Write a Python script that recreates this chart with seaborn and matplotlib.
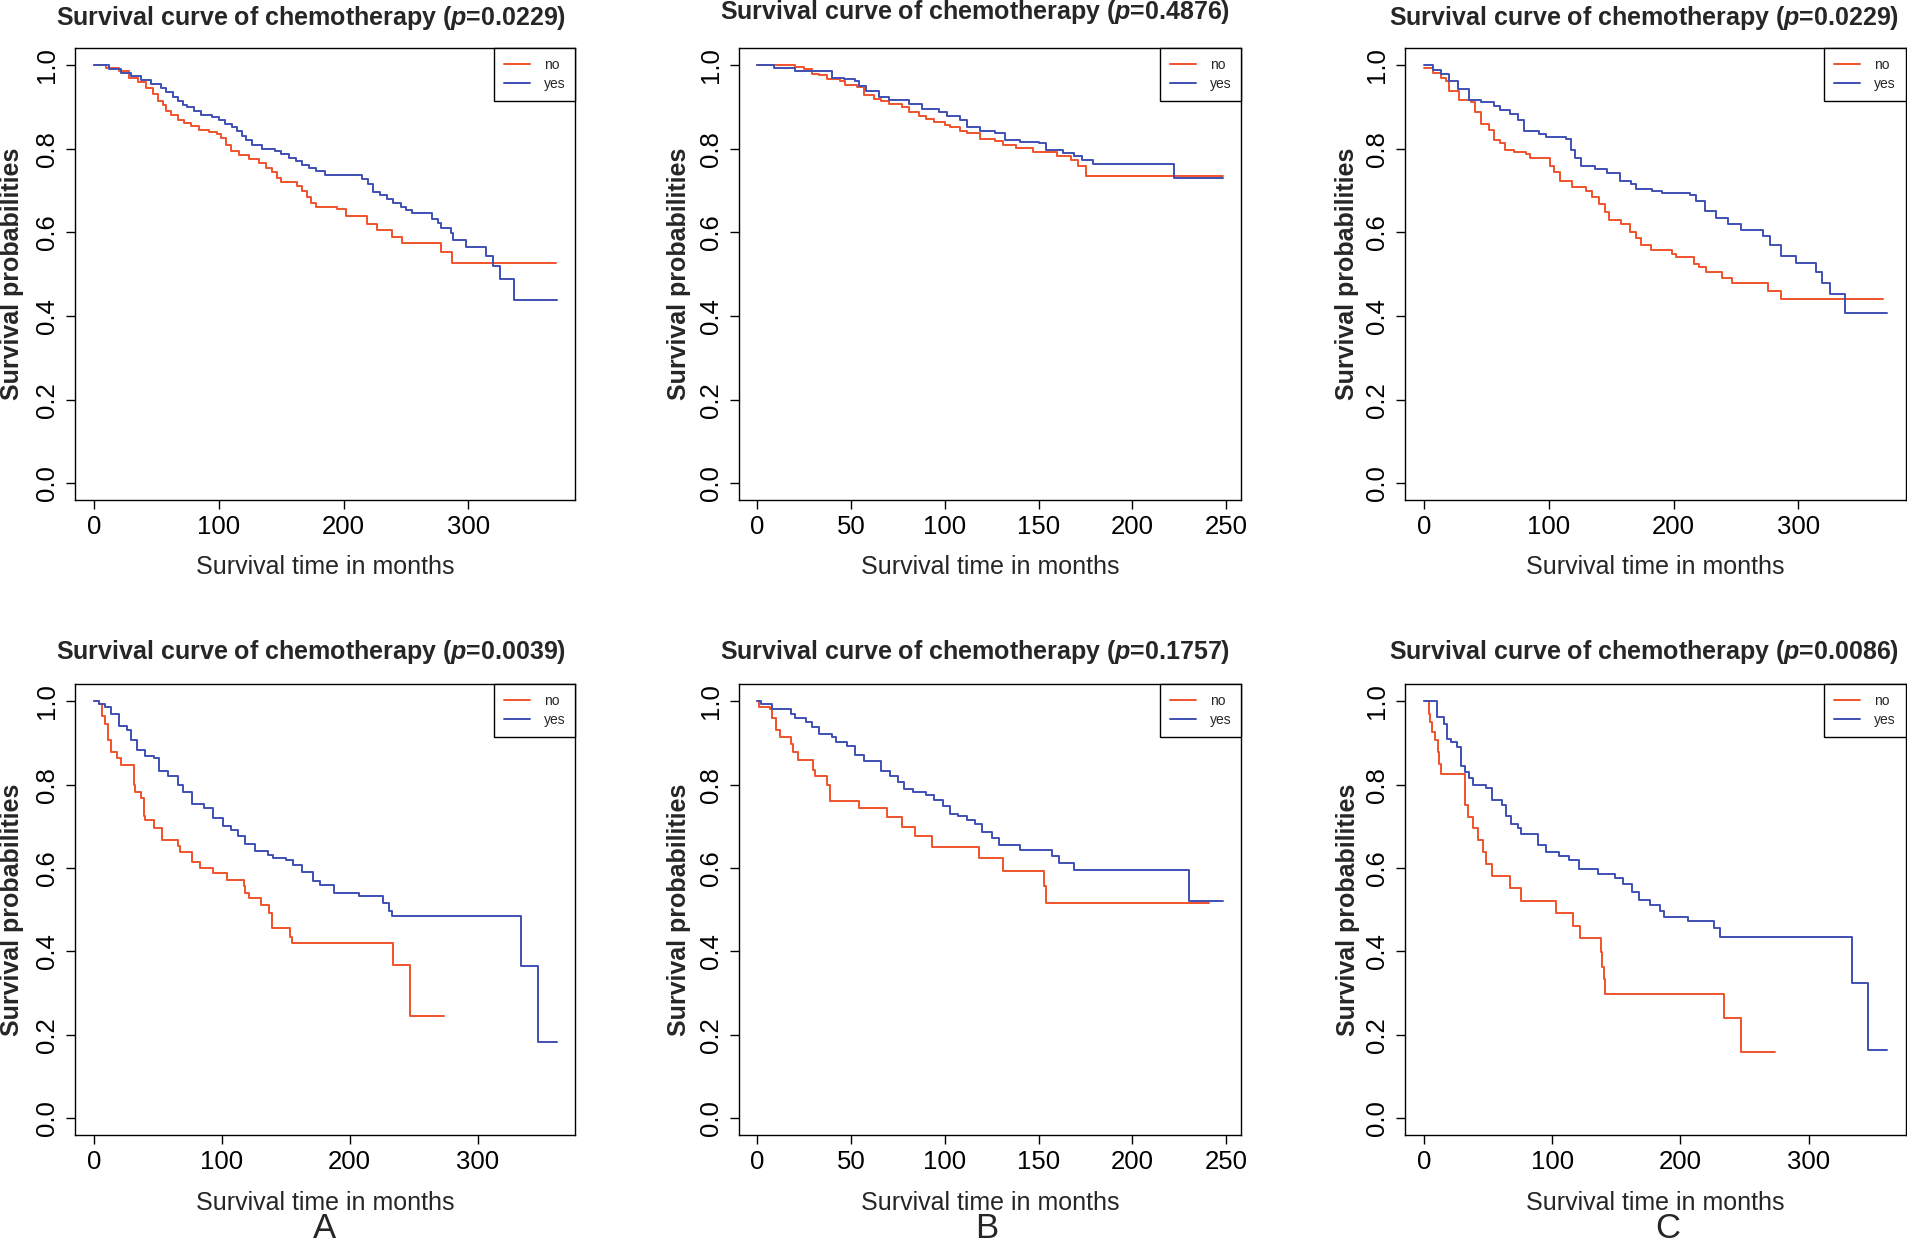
import pandas as pd
import matplotlib
matplotlib.use("Agg")
import matplotlib.pyplot as plt
import seaborn as sns

# Kaplan-Meier steps: event times (months) and survival after each step
# top row, panel A
topA_no_t = [0, 10, 20, 28, 35, 42, 47, 51, 55, 58, 62, 67, 72, 78, 84, 92, 99, 102, 106, 110,
             116, 124, 132, 138, 143, 147, 150, 163, 167, 171, 174, 178, 195, 202, 219, 227, 239,
             247, 278, 287, 370]
topA_no_s = [1.0, 0.993, 0.985, 0.97, 0.96, 0.945, 0.93, 0.915, 0.905, 0.89, 0.88, 0.87, 0.862,
             0.855, 0.845, 0.84, 0.835, 0.825, 0.81, 0.795, 0.785, 0.775, 0.765, 0.755, 0.745,
             0.73, 0.72, 0.71, 0.70, 0.685, 0.67, 0.66, 0.655, 0.64, 0.62, 0.605, 0.59, 0.575,
             0.553, 0.527, 0.527]
topA_yes_t = [0, 12, 22, 30, 38, 46, 54, 58, 63, 67, 71, 75, 80, 86, 95, 100, 105, 111, 115, 119,
              122, 127, 135, 145, 150, 156, 162, 167, 172, 178, 185, 215, 220, 224, 229, 235, 240,
              246, 250, 255, 271, 276, 278, 286, 288, 298, 314, 320, 325, 337, 371]
topA_yes_s = [1.0, 0.99, 0.982, 0.975, 0.965, 0.955, 0.945, 0.935, 0.925, 0.915, 0.905, 0.9, 0.89,
              0.88, 0.875, 0.868, 0.86, 0.852, 0.843, 0.83, 0.82, 0.81, 0.80, 0.795, 0.787, 0.778,
              0.77, 0.762, 0.755, 0.747, 0.738, 0.727, 0.715, 0.697, 0.69, 0.68, 0.67, 0.66,
              0.653, 0.646, 0.632, 0.622, 0.61, 0.598, 0.583, 0.566, 0.543, 0.52, 0.488, 0.439,
              0.439]

# top row, panel B
topB_no_t = [0, 20, 25, 29, 33, 37, 44, 47, 53, 57, 62, 66, 70, 77, 81, 86, 90, 94, 100, 103,
             108, 112, 119, 127, 131, 138, 147, 160, 167, 171, 175, 248]
topB_no_s = [1.0, 0.996, 0.99, 0.98, 0.976, 0.966, 0.961, 0.952, 0.948, 0.929, 0.92, 0.914, 0.906,
             0.90, 0.888, 0.879, 0.871, 0.865, 0.858, 0.851, 0.842, 0.837, 0.824, 0.819, 0.81,
             0.803, 0.793, 0.782, 0.773, 0.759, 0.734, 0.734]
topB_yes_t = [0, 9, 20, 40, 46, 52, 54, 58, 65, 70, 81, 88, 97, 101, 108, 112, 119, 127, 132, 140,
              150, 154, 163, 169, 173, 179, 222, 248]
topB_yes_s = [1.0, 0.994, 0.985, 0.97, 0.966, 0.961, 0.95, 0.938, 0.925, 0.917, 0.906, 0.895,
              0.888, 0.879, 0.87, 0.851, 0.842, 0.837, 0.822, 0.816, 0.814, 0.798, 0.791, 0.782,
              0.773, 0.764, 0.73, 0.73]

# top row, panel C
topC_no_t = [0, 7, 14, 18, 20, 28, 38, 41, 46, 52, 56, 61, 65, 72, 82, 85, 101, 104, 109, 119,
             130, 135, 140, 145, 148, 158, 165, 170, 174, 182, 199, 202, 216, 220, 226, 239, 247,
             276, 286, 368]
topC_no_s = [0.994, 0.982, 0.97, 0.961, 0.938, 0.917, 0.911, 0.888, 0.86, 0.846, 0.822, 0.814,
             0.798, 0.793, 0.787, 0.779, 0.759, 0.745, 0.722, 0.709, 0.70, 0.684, 0.667, 0.649,
             0.629, 0.621, 0.601, 0.586, 0.571, 0.559, 0.548, 0.54, 0.525, 0.518, 0.505, 0.491,
             0.479, 0.46, 0.44, 0.44]
topC_yes_t = [0, 7, 14, 20, 27, 36, 46, 56, 61, 69, 75, 80, 92, 98, 114, 118, 121, 126, 137, 147,
              157, 166, 170, 183, 191, 213, 218, 225, 234, 244, 254, 272, 277, 286, 298, 314, 319,
              325, 337, 371]
topC_yes_s = [1.0, 0.989, 0.98, 0.961, 0.943, 0.917, 0.911, 0.902, 0.892, 0.883, 0.87, 0.842,
              0.835, 0.828, 0.824, 0.796, 0.778, 0.759, 0.752, 0.741, 0.724, 0.715, 0.704, 0.70,
              0.695, 0.69, 0.676, 0.651, 0.635, 0.621, 0.605, 0.592, 0.571, 0.543, 0.527, 0.506,
              0.479, 0.453, 0.408, 0.408]

# bottom row, panel A
botA_no_t = [0, 4, 6, 9, 11, 13, 18, 21, 31, 32, 37, 39, 40, 47, 53, 66, 67, 77, 83, 93, 104,
             117, 118, 121, 131, 137, 139, 153, 155, 234, 247, 274]
botA_no_s = [1.0, 0.992, 0.965, 0.946, 0.908, 0.879, 0.864, 0.848, 0.80, 0.782, 0.768, 0.724,
             0.715, 0.696, 0.667, 0.652, 0.638, 0.614, 0.599, 0.588, 0.572, 0.556, 0.541, 0.527,
             0.511, 0.493, 0.457, 0.435, 0.421, 0.368, 0.246, 0.246]
botA_yes_t = [0, 4, 9, 13, 20, 26, 29, 34, 40, 47, 51, 58, 66, 70, 77, 86, 93, 101, 107, 113,
              118, 126, 136, 140, 150, 156, 163, 171, 177, 188, 207, 226, 231, 233, 334, 347, 362]
botA_yes_s = [1.0, 0.994, 0.985, 0.97, 0.941, 0.932, 0.908, 0.883, 0.869, 0.864, 0.832, 0.821,
              0.80, 0.782, 0.753, 0.744, 0.72, 0.70, 0.691, 0.676, 0.657, 0.64, 0.63, 0.624,
              0.618, 0.607, 0.59, 0.57, 0.559, 0.541, 0.532, 0.517, 0.498, 0.486, 0.365, 0.182,
              0.182]

# bottom row, panel B
botB_no_t = [0, 1, 7, 8, 10, 12, 18, 19, 22, 30, 31, 37, 39, 54, 69, 77, 84, 93, 118, 131, 153,
             154, 241]
botB_no_s = [1.0, 0.987, 0.98, 0.96, 0.932, 0.914, 0.898, 0.879, 0.859, 0.835, 0.821, 0.80,
             0.761, 0.744, 0.723, 0.698, 0.676, 0.651, 0.623, 0.592, 0.556, 0.517, 0.517]
botB_yes_t = [0, 2, 8, 18, 20, 26, 29, 33, 40, 42, 48, 52, 57, 66, 71, 75, 78, 83, 90, 94, 99,
              103, 107, 112, 116, 120, 125, 129, 140, 157, 161, 169, 230, 248]
botB_yes_s = [1.0, 0.994, 0.98, 0.97, 0.96, 0.95, 0.938, 0.922, 0.914, 0.903, 0.893, 0.871,
              0.857, 0.832, 0.821, 0.806, 0.79, 0.782, 0.775, 0.763, 0.749, 0.729, 0.724, 0.715,
              0.705, 0.686, 0.671, 0.654, 0.643, 0.628, 0.612, 0.594, 0.52, 0.52]

# bottom row, panel C
botC_no_t = [0, 4, 5, 6, 9, 11, 12, 13, 32, 34, 38, 42, 46, 48, 53, 67, 76, 103, 116, 122, 138,
             139, 140, 141, 234, 247, 274]
botC_no_s = [1.0, 0.97, 0.95, 0.927, 0.908, 0.879, 0.85, 0.826, 0.751, 0.723, 0.696, 0.667,
             0.638, 0.609, 0.582, 0.553, 0.522, 0.491, 0.462, 0.431, 0.399, 0.363, 0.334, 0.299,
             0.241, 0.16, 0.16]
botC_yes_t = [0, 10, 16, 18, 21, 26, 29, 32, 35, 38, 48, 53, 61, 64, 68, 73, 76, 89, 95, 105, 113,
              121, 136, 149, 155, 162, 168, 176, 184, 187, 206, 226, 231, 334, 346, 361]
botC_yes_s = [1.0, 0.962, 0.944, 0.91, 0.903, 0.89, 0.845, 0.83, 0.816, 0.80, 0.792, 0.763,
              0.751, 0.724, 0.705, 0.696, 0.681, 0.655, 0.638, 0.628, 0.618, 0.597, 0.585, 0.575,
              0.561, 0.543, 0.524, 0.511, 0.498, 0.482, 0.472, 0.455, 0.434, 0.325, 0.164, 0.164]

p_values = ["0.0229", "0.4876", "0.0229", "0.0039", "0.1757", "0.0086"]
ticks_long = [0, 100, 200, 300]
ticks_short = [0, 50, 100, 150, 200, 250]
y_ticks = [0.0, 0.2, 0.4, 0.6, 0.8, 1.0]
y_ticklabels = ["0.0", "0.2", "0.4", "0.6", "0.8", "1.0"]
groups = ["no", "yes"]
panel_letters = ["A", "B", "C"]

RED = "#F0522B"
BLUE = "#3F50B4"

sns.set_style("ticks")
plt.rcParams['font.family'] = ['Liberation Sans', 'DejaVu Sans']
plt.rcParams['mathtext.fontset'] = 'custom'
plt.rcParams['mathtext.it'] = 'Liberation Sans:italic:bold'
plt.rcParams['mathtext.rm'] = 'Liberation Sans:bold'

fig = plt.figure(figsize=(19.08, 12.49), dpi=100)

curves = [
    (topA_no_t, topA_no_s, topA_yes_t, topA_yes_s, ticks_long),
    (topB_no_t, topB_no_s, topB_yes_t, topB_yes_s, ticks_short),
    (topC_no_t, topC_no_s, topC_yes_t, topC_yes_s, ticks_long),
    (botA_no_t, botA_no_s, botA_yes_t, botA_yes_s, ticks_long),
    (botB_no_t, botB_no_s, botB_yes_t, botB_yes_s, ticks_short),
    (botC_no_t, botC_no_s, botC_yes_t, botC_yes_s, ticks_long),
]

lefts = [0.0395, 0.3871, 0.7366]
widths = [0.2621, 0.2634, 0.2621]
rows = [(0.5997, 0.3615), (0.0913, 0.3607)]
ylab_x = [[-0.103, -0.095, -0.093], [-0.103, -0.095, -0.091]]
xlab_y = [-0.122, -0.124]
title_pad = [[17, 21, 17], [18, 18, 18]]
title_x = [0.472, 0.47, 0.478]

for i, (t_no, s_no, t_yes, s_yes, xt) in enumerate(curves):
    r, c = divmod(i, 3)
    ax = fig.add_axes([lefts[c], rows[r][0], widths[c], rows[r][1]])

    df = pd.DataFrame({
        "time": t_no + t_yes,
        "surv": s_no + s_yes,
        "group": ["no"] * len(t_no) + ["yes"] * len(t_yes),
    })
    sns.lineplot(data=df, x="time", y="surv", hue="group", hue_order=groups,
                 palette={"no": RED, "yes": BLUE}, drawstyle="steps-post",
                 estimator=None, legend=False, lw=1.4, ax=ax)

    # R style axis range: 4% padding around the data
    tmax = max(df["time"])
    ax.set_xlim(-0.04 * tmax, 1.04 * tmax)
    ax.set_ylim(-0.04, 1.04)
    ax.set_xticks(xt)
    ax.set_xticklabels([str(v) for v in xt])
    ax.set_yticks(y_ticks)
    ax.set_yticklabels(y_ticklabels, rotation=90, va="center")
    ax.tick_params(direction="out", length=6.5, width=1, labelsize=18.5, colors="black")
    ax.tick_params(axis="x", pad=4)
    ax.tick_params(axis="y", pad=5)
    for sp in ax.spines.values():
        sp.set_visible(True)
        sp.set_color("black")
        sp.set_linewidth(1)

    ax.set_xlabel("Survival time in months", fontsize=18, va="top")
    ax.xaxis.set_label_coords(0.5, xlab_y[r])
    ax.set_ylabel("Survival probabilities", fontsize=18, fontweight="bold")
    ax.yaxis.set_label_coords(ylab_x[r][c], 0.5)
    ax.set_title(r"Survival curve of chemotherapy ($\mathit{p}$=" + p_values[i] + ")",
                 fontsize=18, fontweight="bold", pad=title_pad[r][c], x=title_x[c])

    lines = ax.get_lines()[:2]
    leg = ax.legend(lines, groups, loc="upper right", borderaxespad=0, fancybox=False,
                    edgecolor="black", framealpha=1, fontsize=10, handlelength=1.9,
                    handletextpad=1.0, borderpad=0.7, labelspacing=0.35)
    leg.get_frame().set_linewidth(1)

# panel letters under the bottom row
letter_x = [0.170, 0.517, 0.874]
for x, letter in zip(letter_x, panel_letters):
    fig.text(x, 0.003, letter, fontsize=25, ha="center", va="bottom")

fig.savefig("out.png", dpi=100)
